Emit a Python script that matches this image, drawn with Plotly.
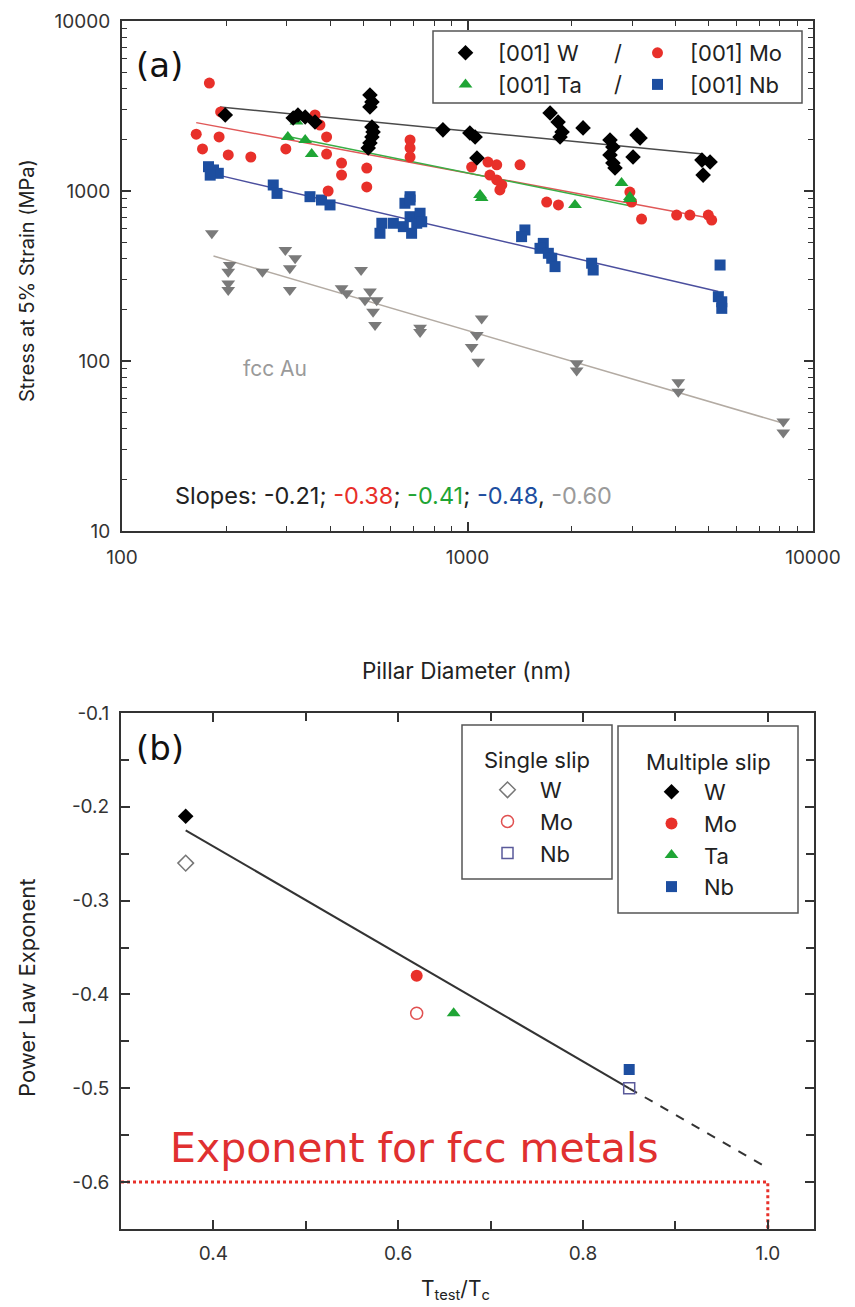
import plotly.graph_objects as go

W_PX, H_PX = 855, 1307
FONT = "Inter"

# ---------------- Panel (a): stress at 5% strain vs pillar diameter ----------------
w_diam = [199, 323, 313, 339, 362, 522, 529, 522, 529, 533, 529, 522, 516, 849, 1016, 1052, 1065,
          1734, 1829, 1878, 1853, 2160, 2585, 2635, 2585, 2635, 2673, 3096, 3158, 3014, 4771, 5036, 4808]
w_stress = [2800, 2800, 2690, 2725, 2545, 3670, 3340, 3120, 2380, 2225, 2080, 1915, 1790, 2290, 2195, 2080, 1565,
            2875, 2545, 2225, 2080, 2350, 1995, 1815, 1630, 1460, 1365, 2135, 2050, 1585, 1520, 1480, 1240]

mo_diam = [164, 171, 179, 191, 193, 203, 236, 298, 362, 374, 391, 391, 395, 432, 432, 511, 511, 682, 682, 682,
           1028, 1146, 1161, 1215, 1215, 1257, 1241, 1419, 1695, 1833, 2951, 2985, 3190, 4030, 4402, 4977, 5090]
mo_stress = [2160, 1767, 4315, 2080, 2918, 1630, 1585, 1767, 2800, 2445, 2080, 1650, 1000, 1460, 1240, 1365, 1057,
             1995, 1790, 1585, 1383, 1480, 1240, 1425, 1161, 1085, 1014, 1425, 861, 828, 986, 861, 684, 722, 722,
             722, 675]

ta_diam = [302, 320, 339, 354, 1087, 1099, 2047, 2792, 2951, 2951]
ta_stress = [2080, 2560, 1995, 1650, 947, 910, 828, 1114, 922, 897]

nb_diam = [178, 184, 190, 180, 274, 281, 350, 378, 400, 565, 558, 610, 652, 659, 682, 682, 682, 689, 713, 729, 737,
           1466, 1434, 1657, 1621, 1714, 1753, 1792, 2287, 2311, 5383, 5321, 5445, 5445]
nb_stress = [1390, 1330, 1271, 1240, 1085, 968, 926, 885, 828, 646, 564, 646, 617, 847, 926, 885, 706, 564, 646, 740,
             659, 590, 539, 492, 460, 430, 402, 359, 376, 343, 367, 239, 223, 204]

au_diam = [182, 205, 203, 203, 203, 255, 297, 317, 306, 306, 492, 432, 447, 522, 505, 546, 533, 540, 729, 729,
           1099, 1064, 1028, 1074, 2070, 2070, 4075, 4075, 8204, 8204]
au_stress = [564, 367, 335, 286, 262, 335, 450, 402, 351, 262, 343, 268, 250, 256, 228, 228, 195, 163, 157, 148,
             178, 142, 121, 99, 97, 88, 75, 66, 44, 38]

# power-law fit lines (end points)
w_fit_d, w_fit_s = [192, 4808], [3120, 1650]
mo_fit_d, mo_fit_s = [164, 5090], [2525, 690]
ta_fit_d, ta_fit_s = [302, 2951], [2090, 820]
nb_fit_d, nb_fit_s = [190, 5321], [1240, 256]
au_fit_d, au_fit_s = [184, 8204], [415, 43]

a_x_ticks = [100, 1000, 10000]
a_x_ticktext = ["100", "1000", "10000"]
a_y_ticks = [10, 100, 1000, 10000]
a_y_ticktext = ["10", "100", "1000", "10000"]

slopes_text = ["-0.21", "-0.38", "-0.41", "-0.48", "-0.60"]

# ---------------- Panel (b): power-law exponent vs Ttest/Tc ----------------
multi_names = ["W", "Mo", "Ta", "Nb"]
multi_t = [0.37, 0.62, 0.66, 0.85]
multi_exp = [-0.21, -0.38, -0.42, -0.48]

single_names = ["W", "Mo", "Nb"]
single_t = [0.37, 0.62, 0.85]
single_exp = [-0.26, -0.42, -0.50]

fit_t, fit_exp = [0.37, 0.85], [-0.225, -0.50]
extrap_t, extrap_exp = [0.85, 1.0], [-0.50, -0.585]
fcc_t, fcc_exp = [0.30, 1.0, 1.0], [-0.60, -0.60, -0.65]

b_x_ticks = [0.4, 0.6, 0.8, 1.0]
b_x_ticktext = ["0.4", "0.6", "0.8", "1.0"]
b_y_ticks = [-0.1, -0.2, -0.3, -0.4, -0.5, -0.6]
b_y_ticktext = ["-0.1", "-0.2", "-0.3", "-0.4", "-0.5", "-0.6"]

# ---------------- styles ----------------
C_W, C_MO, C_TA, C_NB, C_AU = "#000000", "#e8302a", "#1fa535", "#1d4ea0", "#7a7a7a"
C_W_FIT, C_MO_FIT, C_TA_FIT, C_NB_FIT, C_AU_FIT = "#4a4a4a", "#e05858", "#3aae46", "#4b4f9e", "#b3aba3"
TXT = "#222222"


def px_x(v):
    return v / W_PX


def px_y(v):
    return 1 - v / H_PX


fig = go.Figure()

# fit lines (a)
for d, s, c in [(w_fit_d, w_fit_s, C_W_FIT), (mo_fit_d, mo_fit_s, C_MO_FIT), (ta_fit_d, ta_fit_s, C_TA_FIT),
                (nb_fit_d, nb_fit_s, C_NB_FIT), (au_fit_d, au_fit_s, C_AU_FIT)]:
    fig.add_trace(go.Scatter(x=d, y=s, mode="lines", line=dict(color=c, width=1.5), showlegend=False,
                             xaxis="x", yaxis="y", hoverinfo="skip"))

# markers (a)
fig.add_trace(go.Scatter(x=au_diam, y=au_stress, mode="markers", showlegend=False,
                         marker=dict(symbol="triangle-down", size=12, color=C_AU), xaxis="x", yaxis="y"))
fig.add_trace(go.Scatter(x=nb_diam, y=nb_stress, mode="markers", name="[001] Nb", legend="legend2", legendrank=2,
                         marker=dict(symbol="square", size=11, color=C_NB), xaxis="x", yaxis="y"))
fig.add_trace(go.Scatter(x=mo_diam, y=mo_stress, mode="markers", name="[001] Mo", legend="legend2", legendrank=1,
                         marker=dict(symbol="circle", size=11, color=C_MO), xaxis="x", yaxis="y"))
fig.add_trace(go.Scatter(x=ta_diam, y=ta_stress, mode="markers", name="[001] Ta", legend="legend", legendrank=2,
                         marker=dict(symbol="triangle-up", size=12, color=C_TA), xaxis="x", yaxis="y"))
fig.add_trace(go.Scatter(x=w_diam, y=w_stress, mode="markers", name="[001] W", legend="legend", legendrank=1,
                         marker=dict(symbol="diamond", size=12, color=C_W), xaxis="x", yaxis="y"))

# panel (b) lines
fig.add_trace(go.Scatter(x=fit_t, y=fit_exp, mode="lines", line=dict(color="#333333", width=2),
                         showlegend=False, xaxis="x2", yaxis="y2"))
fig.add_trace(go.Scatter(x=extrap_t, y=extrap_exp, mode="lines", line=dict(color="#333333", width=2, dash="dash"),
                         showlegend=False, xaxis="x2", yaxis="y2"))
fig.add_trace(go.Scatter(x=fcc_t, y=fcc_exp, mode="lines", line=dict(color="#e8302a", width=3, dash="dot"),
                         showlegend=False, xaxis="x2", yaxis="y2"))

single_styles = {"W": ("diamond-open", "#777777", 12), "Mo": ("circle-open", "#e05050", 12),
                 "Nb": ("square-open", "#5a5a9a", 11)}
multi_styles = {"W": ("diamond", C_W, 12), "Mo": ("circle", C_MO, 12), "Ta": ("triangle-up", C_TA, 12),
                "Nb": ("square", C_NB, 11)}

for n, t, e in zip(single_names, single_t, single_exp):
    sym, col, sz = single_styles[n]
    fig.add_trace(go.Scatter(x=[t], y=[e], mode="markers", name=n, legend="legend3",
                             marker=dict(symbol=sym, size=sz, color=col, line=dict(width=1.5, color=col)),
                             xaxis="x2", yaxis="y2"))
for n, t, e in zip(multi_names, multi_t, multi_exp):
    sym, col, sz = multi_styles[n]
    fig.add_trace(go.Scatter(x=[t], y=[e], mode="markers", name=n, legend="legend4",
                             marker=dict(symbol=sym, size=sz, color=col), xaxis="x2", yaxis="y2"))

axis_common = dict(showline=True, linecolor="#333333", linewidth=2, mirror="ticks", ticks="inside",
                   ticklen=9, tickwidth=1.5, tickcolor="#333333", showgrid=False, zeroline=False,
                   tickfont=dict(family=FONT, size=19, color="#333333"))

minor_x_a = [m * 10 ** k for k in (2, 3) for m in range(2, 10)]
minor_y_a = [m * 10 ** k for k in (1, 2, 3) for m in range(2, 10)]

legend_common = dict(xanchor="left", yanchor="top", bgcolor="rgba(0,0,0,0)", borderwidth=0,
                     font=dict(family=FONT, size=22, color=TXT), itemwidth=55, orientation="v",
                     tracegroupgap=0, itemclick=False, itemdoubleclick=False, traceorder="normal")

fig.update_layout(
    width=W_PX, height=H_PX, margin=dict(l=0, r=0, t=0, b=0, autoexpand=False),
    paper_bgcolor="white", plot_bgcolor="white",
    xaxis=dict(axis_common, type="log", range=[2, 4], domain=[px_x(122), px_x(813)], anchor="y",
               tickvals=a_x_ticks, ticktext=a_x_ticktext, ticklabelstandoff=8,
               minor=dict(ticks="inside", ticklen=5, tickwidth=1.2, tickcolor="#333333", tickvals=minor_x_a)),
    yaxis=dict(axis_common, type="log", range=[1, 4], domain=[px_y(531), px_y(21)], anchor="x",
               tickvals=a_y_ticks, ticktext=a_y_ticktext, ticklabelstandoff=6,
               minor=dict(ticks="inside", ticklen=5, tickwidth=1.2, tickcolor="#333333", tickvals=minor_y_a)),
    xaxis2=dict(axis_common, range=[0.3, 1.05], domain=[px_x(121), px_x(814)], anchor="y2",
                tickvals=b_x_ticks, ticktext=b_x_ticktext, ticklabelstandoff=6,
                minor=dict(ticks="inside", ticklen=8, tickwidth=1.5, tickcolor="#333333", dtick=0.1, tick0=0.3)),
    yaxis2=dict(axis_common, range=[-0.65, -0.1], domain=[px_y(1229), px_y(713)], anchor="x2",
                tickvals=b_y_ticks, ticktext=b_y_ticktext, ticklabelstandoff=6,
                minor=dict(ticks="inside", ticklen=8, tickwidth=1.5, tickcolor="#333333", dtick=0.05, tick0=-0.1)),
    legend=dict(legend_common, x=px_x(433), y=px_y(32)),
    legend2=dict(legend_common, x=px_x(625), y=px_y(32)),
    legend3=dict(legend_common, x=px_x(475), y=px_y(769)),
    legend4=dict(legend_common, x=px_x(639), y=px_y(771)),
)

# legend boxes
for x0, y0, x1, y1 in [(433, 31, 802, 103), (462, 725, 612, 879), (618, 726, 798, 913)]:
    fig.add_shape(type="rect", xref="paper", yref="paper", x0=px_x(x0), x1=px_x(x1), y0=px_y(y1), y1=px_y(y0),
                  line=dict(color="#555555", width=1.5), layer="above")

ann = []
for yy in (53, 84):
    ann.append(dict(x=px_x(618), y=px_y(yy), text="/", font=dict(family=FONT, size=22, color=TXT)))
ann += [
    dict(x=px_x(159), y=px_y(65), text="(a)", font=dict(family="DejaVu Sans", size=34, color="#111111")),
    dict(x=px_x(160), y=px_y(748), text="(b)", font=dict(family="DejaVu Sans", size=34, color="#111111")),
    dict(x=px_x(275), y=px_y(368), text="fcc Au", font=dict(family=FONT, size=21, color="#9a9a9a")),
    dict(x=px_x(173), y=px_y(495), xanchor="left",
         text=("Slopes: " + slopes_text[0] + "; "
               + "<span style='color:%s'>%s</span>; " % (C_MO, slopes_text[1])
               + "<span style='color:%s'>%s</span>; " % (C_TA, slopes_text[2])
               + "<span style='color:%s'>%s</span>, " % (C_NB, slopes_text[3])
               + "<span style='color:#9a9a9a'>%s</span>" % slopes_text[4]),
         font=dict(family=FONT, size=23.5, color=TXT)),
    dict(x=px_x(27), y=px_y(281), text="Stress at 5% Strain (MPa)", textangle=-90,
         font=dict(family=FONT, size=20, color=TXT)),
    dict(x=px_x(467), y=px_y(670), text="Pillar Diameter (nm)", font=dict(family=FONT, size=22.5, color=TXT)),
    dict(x=px_x(27), y=px_y(988), text="Power Law Exponent", textangle=-90,
         font=dict(family=FONT, size=22, color=TXT)),
    dict(x=px_x(455), y=px_y(1290), text="T<sub>test</sub>/T<sub>c</sub>",
         font=dict(family=FONT, size=21, color=TXT)),
    dict(x=px_x(537), y=px_y(760), text="Single slip", font=dict(family=FONT, size=22, color=TXT)),
    dict(x=px_x(708), y=px_y(762), text="Multiple slip", font=dict(family=FONT, size=22, color=TXT)),
    dict(x=px_x(414), y=px_y(1148), text="Exponent for fcc metals",
         font=dict(family="DejaVu Sans", size=41, color="#e03030")),
]
for a in ann:
    a.setdefault("xref", "paper")
    a.setdefault("yref", "paper")
    a.setdefault("showarrow", False)
    a.setdefault("xanchor", "center")
    a.setdefault("yanchor", "middle")
    fig.add_annotation(**a)

fig.write_html("out.html", config={"displayModeBar": False},
               post_script="document.body.style.margin='0';document.body.style.padding='0';")
